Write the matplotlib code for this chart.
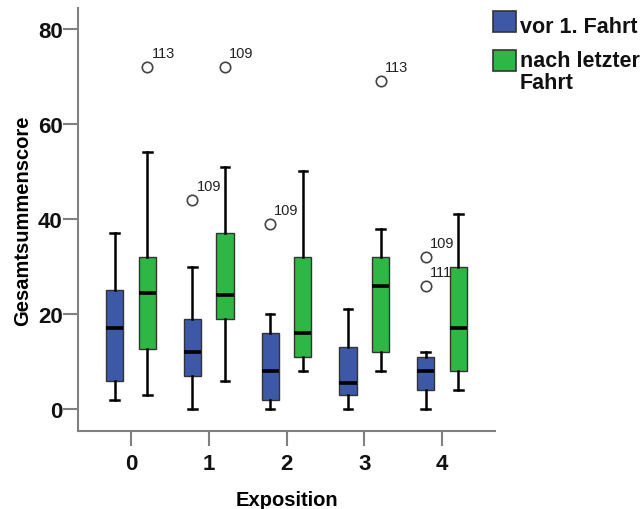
import matplotlib.pyplot as plt
from matplotlib.patches import Rectangle

plt.rcParams['font.family'] = ['Liberation Sans', 'DejaVu Sans']

# Expositionsgruppen und Boxplot-Kennwerte je Messzeitpunkt
expositions = [0, 1, 2, 3, 4]
series_names = ["vor 1. Fahrt", "nach letzter\nFahrt"]

vor_low = [2, 0, 0, 0, 0]
vor_q1 = [6, 7, 2, 3, 4]
vor_med = [17, 12, 8, 5.5, 8]
vor_q3 = [25, 19, 16, 13, 11]
vor_high = [37, 30, 20, 21, 12]
vor_outliers = [[], [44], [39], [], [32, 26]]
vor_outlier_ids = [[], ["109"], ["109"], [], ["109", "111"]]

nach_low = [3, 6, 8, 8, 4]
nach_q1 = [12.6, 19, 11, 12, 8]
nach_med = [24.5, 24, 16, 26, 17]
nach_q3 = [32, 37, 32, 32, 30]
nach_high = [54, 51, 50, 38, 41]
nach_outliers = [[72], [72], [], [69], []]
nach_outlier_ids = [["113"], ["109"], [], ["113"], []]

BLUE = "#3e58a8"
GREEN = "#2eb744"
OFFSET = 0.21
WIDTH = 0.22
W, H = 644, 510


def make_stats(low, q1, med, q3, high, fliers):
    return [dict(whislo=a, q1=b, med=c, q3=d, whishi=e, fliers=f)
            for a, b, c, d, e, f in zip(low, q1, med, q3, high, fliers)]


fig = plt.figure(figsize=(W / 100, H / 100), dpi=100)
ax = fig.add_axes([78 / W, 78 / H, 417 / W, 423 / H])

groups = [
    (make_stats(vor_low, vor_q1, vor_med, vor_q3, vor_high, vor_outliers),
     -OFFSET, BLUE, vor_outliers, vor_outlier_ids),
    (make_stats(nach_low, nach_q1, nach_med, nach_q3, nach_high, nach_outliers),
     OFFSET, GREEN, nach_outliers, nach_outlier_ids),
]

for stats, off, color, fliers, ids in groups:
    pos = [x + off for x in expositions]
    ax.bxp(stats, positions=pos, widths=WIDTH, capwidths=0.11,
           patch_artist=True, showfliers=True,
           boxprops=dict(facecolor=color, edgecolor="#333333", linewidth=1.0),
           medianprops=dict(color="black", linewidth=2.6),
           whiskerprops=dict(color="black", linewidth=1.8),
           capprops=dict(color="black", linewidth=1.8),
           flierprops=dict(marker="o", markersize=7.5, markerfacecolor="none",
                           markeredgecolor="#444444", markeredgewidth=1.2))
    # Fallnummern neben den Ausreißern
    for x, vals, labs in zip(pos, fliers, ids):
        for v, lab in zip(vals, labs):
            ax.annotate(lab, (x, v), xytext=(3, 5), textcoords="offset points",
                        fontsize=10.5, color="#222222", ha="left", va="bottom")

ax.set_xlim(-0.68, 4.68)
ax.set_ylim(-4.6, 84.4)
ax.set_xticks(expositions)
ax.set_xticklabels([str(e) for e in expositions])
ax.set_yticks([0, 20, 40, 60, 80])

for side in ("top", "right"):
    ax.spines[side].set_visible(False)
for side in ("left", "bottom"):
    ax.spines[side].set_color("#808080")
    ax.spines[side].set_linewidth(1.5)

ax.tick_params(axis="both", direction="out", length=10.5, width=1.5,
               color="#808080", labelsize=16, labelcolor="#111111")
ax.tick_params(axis="y", pad=0.5)
ax.tick_params(axis="x", pad=5)
for lbl in ax.get_xticklabels() + ax.get_yticklabels():
    lbl.set_fontweight("bold")

ax.set_xlabel("Exposition", fontsize=14.5, fontweight="bold", labelpad=12)
ax.set_ylabel("Gesamtsummenscore", fontsize=14.5, fontweight="bold", labelpad=4)

# Legende von Hand: Farbkästchen links, Beschriftung zeilenweise daneben
box_tops = [12, 51]          # Pixel von oben
text_baselines = [33, 67]    # Grundlinie der ersten Textzeile
for top, base, name, color in zip(box_tops, text_baselines, series_names,
                                  [BLUE, GREEN]):
    fig.add_artist(Rectangle((493 / W, 1 - (top + 21) / H), 23 / W, 21 / H,
                             transform=fig.transFigure, facecolor=color,
                             edgecolor="#333333", linewidth=1.2))
    for i, line in enumerate(name.split("\n")):
        fig.text(520 / W, 1 - (base + 22 * i) / H, line,
                 fontsize=15.5, fontweight="bold", color="#111111",
                 ha="left", va="baseline")

fig.savefig("out.png", dpi=100)
